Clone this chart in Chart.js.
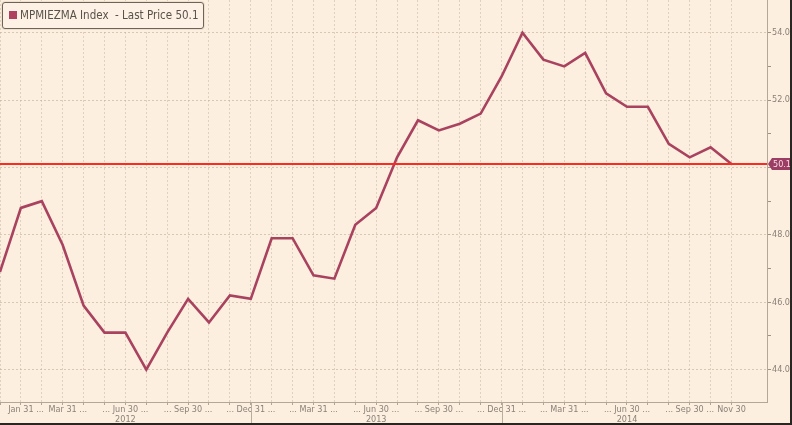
<!DOCTYPE html>
<html>
<head>
<meta charset="utf-8">
<script src="https://cdn.jsdelivr.net/npm/chart.js@4.4.1/dist/chart.umd.min.js"></script>
<style>
  html, body { margin: 0; padding: 0; background: #fbeede; }
  #wrap {
    position: relative; width: 790px; height: 423px;
    background: #fcefdf;
    border-right: 2px solid #2a2520; border-bottom: 2px solid #2a2520;
  }
  #legend {
    position: absolute; left: 2px; top: 2px; height: 25px; padding: 0 5px 0 6px;
    border: 1px solid #6e6356; border-radius: 3px; background: #fcf1e4;
    font: 11.5px "DejaVu Sans Condensed", "DejaVu Sans", sans-serif; color: #5a5148;
    line-height: 25px; white-space: pre; box-shadow: 0 0 0 1px #ede0cf;
  }
  #legend span.mk {
    display: inline-block; width: 8px; height: 8px; background: #b0405f;
    margin-right: 3px; vertical-align: 0px;
  }
</style>
</head>
<body>
<div id="wrap">
  <canvas id="c" width="790" height="423"></canvas>
  <div id="legend"><span class="mk"></span>MPMIEZMA Index  - Last Price 50.1</div>
</div>
<script>
// Monthly readings, Dec 2011 .. Nov 2014
const months = ['Dec 11','Jan 12','Feb 12','Mar 12','Apr 12','May 12','Jun 12','Jul 12','Aug 12','Sep 12','Oct 12','Nov 12',
  'Dec 12','Jan 13','Feb 13','Mar 13','Apr 13','May 13','Jun 13','Jul 13','Aug 13','Sep 13','Oct 13','Nov 13',
  'Dec 13','Jan 14','Feb 14','Mar 14','Apr 14','May 14','Jun 14','Jul 14','Aug 14','Sep 14','Oct 14','Nov 14'];
const pmi = [46.9, 48.8, 49.0, 47.7, 45.9, 45.1, 45.1, 44.0, 45.1, 46.1, 45.4, 46.2,
  46.1, 47.9, 47.9, 46.8, 46.7, 48.3, 48.8, 50.3, 51.4, 51.1, 51.3, 51.6,
  52.7, 54.0, 53.2, 53.0, 53.4, 52.2, 51.8, 51.8, 50.7, 50.3, 50.6, 50.1];
const lastPrice = 50.1;

// bottom axis labels (index into months)
const tickIdx = [1, 3, 6, 9, 12, 15, 18, 21, 24, 27, 30, 33, 35];
const tickText = ['    Jan 31 ...', '    Mar 31 ...', '... Jun 30 ...', '... Sep 30 ...', '... Dec 31 ...',
  '... Mar 31 ...', '... Jun 30 ...', '... Sep 30 ...', '... Dec 31 ...', '... Mar 31 ...',
  '... Jun 30 ...', '... Sep 30 ...', 'Nov 30'];
const yearIdx = [6, 18, 30];
const yearText = ['2012', '2013', '2014'];
const yearBreaks = [12, 24];
const yTicks = [44, 45, 46, 47, 48, 49, 50, 51, 52, 53, 54];

const FONT = '"DejaVu Sans Condensed", "DejaVu Sans", sans-serif';

const extras = {
  id: 'extras',
  afterDraw(chart) {
    const ctx = chart.ctx, xs = chart.scales.x, ys = chart.scales.y, a = chart.chartArea;
    ctx.save();
    // year separators in the label band
    ctx.strokeStyle = '#b9ad9e';
    ctx.lineWidth = 1;
    yearBreaks.forEach(v => {
      const px = Math.round(xs.getPixelForValue(v)) + 0.5;
      ctx.beginPath(); ctx.moveTo(px, a.bottom); ctx.lineTo(px, chart.height); ctx.stroke();
    });
    // last price tag
    const y = ys.getPixelForValue(lastPrice);
    const x = a.right + 1;
    ctx.fillStyle = '#9c3d63';
    ctx.beginPath();
    ctx.moveTo(x, y); ctx.lineTo(x + 4, y - 6); ctx.lineTo(x + 23, y - 6);
    ctx.lineTo(x + 23, y + 6); ctx.lineTo(x + 4, y + 6); ctx.closePath(); ctx.fill();
    ctx.fillStyle = '#f4dde4';
    ctx.font = '9px ' + FONT;
    ctx.textBaseline = 'middle';
    ctx.fillText(lastPrice.toFixed(1), x + 5, y + 0.5);
    ctx.restore();
  }
};

new Chart(document.getElementById('c'), {
  type: 'line',
  data: {
    datasets: [
      {
        label: 'Last Price',
        data: [{ x: 0, y: lastPrice }, { x: 36.7, y: lastPrice }],
        borderColor: '#ff2a1f', borderWidth: 2, pointRadius: 0
      },
      {
        label: 'MPMIEZMA Index',
        data: pmi.map((v, i) => ({ x: i, y: v })),
        borderColor: '#a9425f', borderWidth: 2.6, pointRadius: 0, tension: 0,
        borderJoinStyle: 'miter'
      }
    ]
  },
  options: {
    responsive: false,
    animation: false,
    layout: { padding: 0 },
    plugins: { legend: { display: false }, tooltip: { enabled: false } },
    scales: {
      x: {
        type: 'linear', min: 0, max: 36.7,
        afterBuildTicks: s => { s.ticks = months.map((m, i) => ({ value: i })); },
        afterFit: s => { s.height = 21; s.paddingLeft = 0; s.paddingRight = 0; },
        ticks: {
          autoSkip: false, maxRotation: 0, padding: 0,
          color: '#8a8178', font: { family: FONT, size: 9, lineHeight: 1.05 },
          callback: v => {
            const k = tickIdx.indexOf(v);
            if (k < 0) return '';
            const j = yearIdx.indexOf(v);
            return j < 0 ? tickText[k] : [tickText[k], yearText[j]];
          }
        },
        grid: {
          color: 'rgba(190,172,150,0.45)', tickColor: '#b0a594', tickLength: 3,
          drawTicks: true
        },
        border: { color: '#b3a797', dash: [2, 2] }
      },
      y: {
        position: 'right', min: 43.04, max: 54.97,
        afterBuildTicks: s => { s.ticks = yTicks.map(v => ({ value: v })); },
        afterFit: s => { s.width = 23; s.paddingTop = 0; s.paddingBottom = 0; },
        ticks: {
          padding: 1, color: '#8a8178', font: { family: FONT, size: 9 },
          callback: v => (v % 2 === 0 ? v.toFixed(1) : '')
        },
        grid: {
          color: c => (c.tick && c.tick.value % 2 === 0 ? 'rgba(190,172,150,0.6)' : 'rgba(0,0,0,0)'),
          tickColor: '#9d9385', tickLength: 4
        },
        border: { color: '#b3a797', dash: [2, 2] }
      }
    }
  },
  plugins: [extras]
});
</script>
</body>
</html>
